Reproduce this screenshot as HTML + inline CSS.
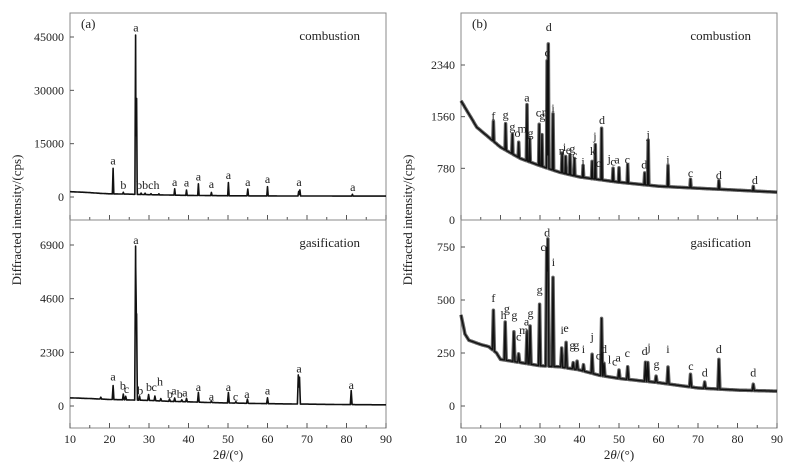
<!DOCTYPE html>
<html><head><meta charset="utf-8"><style>
html,body{margin:0;padding:0;background:#fff;}
svg text{font-family:"Liberation Serif",serif;fill:#222;}
</style></head><body>
<svg id="chart" width="797" height="467" viewBox="0 0 797 467" xmlns="http://www.w3.org/2000/svg"></svg>
<script>
// ---------- DATA ----------
const aCombBaseX = [10, 14, 18, 20, 25, 30, 35, 40, 50, 60, 70, 80, 90];
const aCombBaseY = [1500, 1300, 1000, 900, 800, 650, 550, 450, 350, 300, 280, 260, 250];
const aCombPeakX = [20.9, 23.5, 26.6, 26.85, 28, 29, 30.5, 32.5, 36.5, 39.5, 42.5, 45.8, 50.1, 55, 60, 67.9, 68.2, 81.5];
const aCombPeakH = [7200, 500, 44800, 27000, 400, 400, 300, 300, 1800, 1500, 3300, 900, 3700, 1900, 2600, 1300, 1700, 500];
const aCombLabX = [20.9, 23.5, 26.7, 29.7, 36.5, 39.5, 42.5, 45.8, 50.1, 55, 60, 68, 81.6];
const aCombLabY = [9200, 2300, 46500, 2300, 3100, 2900, 4700, 2500, 5100, 3100, 3900, 3100, 1700];
const aCombLabT = ["a","b","a","bbch","a","a","a","a","a","a","a","a","a"];
const aGasBaseX = [10, 15, 20, 25, 30, 35, 40, 45, 50, 60, 70, 80, 90];
const aGasBaseY = [350, 320, 280, 260, 240, 200, 180, 150, 130, 100, 80, 60, 50];
const aGasPeakX = [17.8, 20.9, 23.5, 24.1, 26.6, 26.85, 27.6, 29.9, 31.5, 33, 35.2, 36.5, 38.3, 39.5, 42.5, 45.8, 50.1, 52, 54.9, 60, 67.8, 68.1, 81.2];
const aGasPeakH = [80, 600, 250, 150, 6600, 3700, 180, 250, 200, 100, 100, 150, 80, 150, 420, 60, 450, 60, 180, 250, 1250, 1150, 600];
const aGasLabX = [20.9, 23.4, 24.3, 26.7, 27.8, 30, 31.3, 32.8, 35.3, 36.3, 37.8, 39.1, 42.5, 45.8, 50.1, 51.9, 54.8, 60, 68, 81.2];
const aGasLabY = [1100, 700, 550, 6950, 500, 650, 650, 870, 350, 500, 350, 400, 650, 230, 650, 230, 350, 500, 1430, 730];
const aGasLabT = ["a","b","c","a","b","b","c","h","b","a","b","a","a","a","a","c","a","a","a","a"];
const bCombBaseX = [10, 12, 14, 17, 20, 25, 30, 35, 40, 45, 50, 60, 70, 80, 90];
const bCombBaseY = [1800, 1600, 1400, 1250, 1100, 930, 820, 720, 650, 610, 570, 510, 480, 450, 420];
const bCombPeakX = [18.2, 21.3, 23, 24.6, 26.7, 27.4, 29.8, 30.5, 31.8, 32.1, 33.3, 35.6, 36.5, 37.6, 38.7, 40.9, 43.2, 44, 45.6, 48.5, 50, 52.2, 56.5, 57.4, 62.4, 68.1, 75.3, 84];
const bCombPeakH = [300, 400, 300, 230, 850, 350, 620, 480, 1620, 1880, 850, 300, 260, 300, 260, 180, 260, 520, 780, 200, 220, 280, 180, 680, 320, 130, 130, 70];
const bCombLabX = [18.2, 21.3, 23, 24.3, 25.5, 26.7, 27.6, 29.6, 30.6, 31.2, 31.8, 32.2, 33.3, 35.5, 36.2, 37.2, 38.2, 38.8, 40.9, 43.4, 43.9, 44.8, 45.7, 47.5, 48.5, 49.5, 52.1, 56.4, 57.4, 62.4, 68.1, 75.3, 84.4];
const bCombLabY = [1510, 1530, 1350, 1250, 1320, 1790, 1250, 1560, 1520, 1570, 2470, 2850, 1630, 990, 1040, 1000, 1020, 920, 820, 980, 1210, 800, 1450, 870, 820, 850, 850, 780, 1230, 850, 650, 620, 540];
const bCombLabT = ["f","g","g","o","m","a","g","c","g","n","c","d","i","n","i","e","g","c","i","k","j","c","d","j","c","a","c","d","j","i","c","d","d"];
const bGasBaseX = [10, 11, 12, 15, 17, 19, 20, 25, 30, 35, 40, 45, 50, 60, 70, 80, 90];
const bGasBaseY = [430, 340, 310, 290, 280, 250, 220, 205, 190, 185, 170, 145, 130, 110, 85, 75, 70];
const bGasPeakX = [18.2, 21.2, 23.4, 24.6, 26.7, 27.5, 29.9, 31.7, 32, 33.3, 35.5, 36.6, 38.4, 39.4, 41, 43.2, 45.6, 46.2, 50, 52.2, 56.7, 57.3, 59.4, 62.4, 68.1, 71.7, 75.3, 84];
const bGasPeakH = [190, 180, 140, 40, 150, 180, 290, 560, 600, 420, 90, 120, 30, 40, 30, 90, 270, 60, 40, 60, 90, 90, 30, 80, 60, 30, 140, 30];
const bGasLabX = [18.2, 20.8, 21.6, 23.5, 24.6, 25.9, 26.6, 27.6, 29.9, 30.8, 31.8, 33.4, 35.6, 36.6, 38.2, 39.2, 41, 43.2, 44.8, 46.2, 47.6, 48.9, 49.8, 52.1, 56.5, 57.6, 59.5, 62.4, 68.2, 71.7, 75.3, 84];
const bGasLabY = [490, 410, 440, 410, 310, 340, 380, 420, 530, 730, 800, 660, 340, 350, 270, 270, 250, 310, 220, 250, 200, 190, 210, 230, 240, 260, 180, 250, 170, 140, 250, 140];
const bGasLabT = ["f","h","g","g","c","m","a","g","g","c","d","i","i","e","g","g","i","j","c","d","l","c","a","c","d","j","g","i","c","d","d","d"];

// ---------- LAYOUT ----------
const svg = document.getElementById('chart');
const NS = 'http://www.w3.org/2000/svg';
function mk(tag, attrs, parent){ const e = document.createElementNS(NS, tag); for (const k in attrs) e.setAttribute(k, attrs[k]); (parent||svg).appendChild(e); return e; }

const panels = [
 {id:'a-combustion', x0:70, x1:386, yTop:13, yBot:220, v0:0, p0:197, vRef:45000, pRef:37, ticks:[0,15000,30000,45000], bx:aCombBaseX, by:aCombBaseY, px:aCombPeakX, ph:aCombPeakH, lx:aCombLabX, ly:aCombLabY, lt:aCombLabT, w:0.18, sw:1.6, band:0, name:'combustion', tag:'(a)', xaxis:false},
 {id:'a-gasification', x0:70, x1:386, yTop:220, yBot:428, v0:0, p0:406, vRef:6900, pRef:245, ticks:[0,2300,4600,6900], bx:aGasBaseX, by:aGasBaseY, px:aGasPeakX, ph:aGasPeakH, lx:aGasLabX, ly:aGasLabY, lt:aGasLabT, w:0.22, sw:1.6, band:0, name:'gasification', tag:null, xaxis:true},
 {id:'b-combustion', x0:461, x1:777, yTop:13, yBot:220, v0:0, p0:220, vRef:2340, pRef:65, ticks:[0,780,1560,2340], bx:bCombBaseX, by:bCombBaseY, px:bCombPeakX, ph:bCombPeakH, lx:bCombLabX, ly:bCombLabY, lt:bCombLabT, w:0.16, sw:1.4, band:3.5, name:'combustion', tag:'(b)', xaxis:false},
 {id:'b-gasification', x0:461, x1:777, yTop:220, yBot:428, v0:0, p0:406, vRef:750, pRef:247, ticks:[0,250,500,750], bx:bGasBaseX, by:bGasBaseY, px:bGasPeakX, ph:bGasPeakH, lx:bGasLabX, ly:bGasLabY, lt:bGasLabT, w:0.25, sw:1.4, band:3.5, name:'gasification', tag:null, xaxis:true}
];

function interp(xs, ys, x){
  if (x <= xs[0]) return ys[0];
  for (let i=1;i<xs.length;i++){ if (x <= xs[i]){ const t=(x-xs[i-1])/(xs[i]-xs[i-1]); return ys[i-1]+t*(ys[i]-ys[i-1]); } }
  return ys[ys.length-1];
}

panels.forEach(P => {
  const g = mk('g', {});
  
  
  const sx = v => P.x0 + (v-10)/(90-10)*(P.x1-P.x0);
  const sy = v => P.p0 - (v-P.v0)/(P.vRef-P.v0)*(P.p0-P.pRef);
  const fr = mk('rect', {x:P.x0, y:P.yTop, width:P.x1-P.x0, height:P.yBot-P.yTop, fill:'none', stroke:'#888', 'stroke-width':1}, g);
  
  
  for (let v=10; v<=90; v+=5){
    const len = v%10===0 ? 5 : 3;
    mk('line', {x1:sx(v), x2:sx(v), y1:P.yBot, y2:P.yBot-len, stroke:'#555', 'stroke-width':1}, g);
  }
  P.ticks.forEach(t => {
    const y = sy(t);
    mk('line', {x1:P.x0, x2:P.x0+4, y1:y, y2:y, stroke:'#555', 'stroke-width':1}, g);
    const tx = mk('text', {x:P.x0-6, y:y+4, 'font-size':12, 'text-anchor':'end'}, g);
    tx.textContent = t;
    
    
  });
  const pts = [];
  const xsSet = new Set();
  for (let v=10; v<=90.0001; v+=0.25) xsSet.add(+v.toFixed(3));
  P.px.forEach(p => { xsSet.add(+(p-P.w).toFixed(3)); xsSet.add(+p.toFixed(3)); xsSet.add(+(p+P.w).toFixed(3)); });
  const xs = [...xsSet].filter(v=>v>=10&&v<=90).sort((a,b)=>a-b);
  xs.forEach(x => {
    let y = interp(P.bx, P.by, x);
    P.px.forEach((p,i) => { const d = Math.abs(x-p); if (d < P.w) y += P.ph[i]*(1-d/P.w); });
    pts.push(sx(x).toFixed(1)+','+sy(y).toFixed(1));
  });
  if (P.band){
    const b = mk('polyline', {points:pts.join(' '), fill:'none', stroke:'#222', 'stroke-opacity':0.7, 'stroke-width':P.band, 'stroke-linejoin':'round'}, g);
    
    
  }
  const line = mk('polyline', {points:pts.join(' '), fill:'none', stroke:'#111', 'stroke-width':P.sw, 'stroke-linejoin':'round'}, g);
  
  
  P.lx.forEach((x,i) => {
    const t = mk('text', {x:sx(x), y:sy(P.ly[i]), 'font-size':12, 'text-anchor':'middle'}, g);
    t.textContent = P.lt[i];
    
    
  });
  const nm = mk('text', {x:P.x1-26, y:P.yTop+27, 'font-size':13, 'text-anchor':'end'}, g);
  nm.textContent = P.name;
  
  
  if (P.tag){
    const tg = mk('text', {x:P.x0+11, y:P.yTop+15, 'font-size':13}, g);
    tg.textContent = P.tag;
    
    
  }
  if (P.xaxis){
    for (let v=10; v<=90; v+=10){
      const t = mk('text', {x:sx(v), y:P.yBot+15, 'font-size':12, 'text-anchor':'middle'}, g);
      t.textContent = v;
      
      
    }
    const xt = mk('text', {x:(P.x0+P.x1)/2, y:P.yBot+31, 'font-size':13, 'text-anchor':'middle'}, g);
    xt.innerHTML = '2<tspan font-style="italic">θ</tspan>/(°)';
    
    
  }
});

[[21,'left'],[412,'right']].forEach(([x,side]) => {
  const t = mk('text', {x:x, y:220, 'font-size':13, 'text-anchor':'middle', transform:'rotate(-90 '+x+' 220)'});
  t.textContent = 'Diffracted intensity/(cps)';
  
  
});
</script>
</body></html>
